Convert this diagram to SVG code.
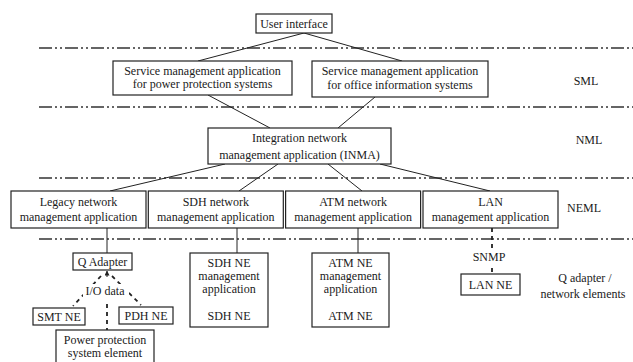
<svg xmlns="http://www.w3.org/2000/svg" width="633" height="362" viewBox="0 0 633 362">
<style>
  text { font-family: 'Liberation Serif', 'Times New Roman', 'DejaVu Serif', serif; font-size: 12px; fill: #1a1a1a; text-anchor: middle; }
  .box { fill: #ffffff; stroke: #222222; stroke-width: 1.2; }
  .conn { stroke: #222222; stroke-width: 1; fill: none; }
  .dash { stroke: #222222; stroke-width: 1.8; fill: none; stroke-dasharray: 4 4; }
  .layer { stroke: #333333; stroke-width: 1.5; fill: none; stroke-dasharray: 13 3 2 3 2 3; }
  .bg { fill: #ffffff; stroke: none; }
</style>
<defs>
  <marker id="arr" viewBox="0 0 10 10" refX="9" refY="5" markerWidth="5" markerHeight="5" orient="auto">
    <path d="M0,0 L10,5 L0,10 z" fill="#222222"/>
  </marker>
</defs>
<rect width="633" height="362" fill="#ffffff"/>

<g id="layers" font-family="Liberation Serif, serif">
  <line class="layer" x1="39" y1="48" x2="633" y2="48"/>
  <line class="layer" x1="39" y1="107" x2="633" y2="107"/>
  <line class="layer" x1="39" y1="178" x2="633" y2="178"/>
  <line class="layer" x1="39" y1="239" x2="633" y2="239"/>
  <text x="586" y="85">SML</text>
  <text x="589" y="144">NML</text>
  <text x="584" y="212">NEML</text>
  <text x="585" y="282">Q adapter /</text>
  <text x="583" y="298">network elements</text>
</g>

<g id="connectors">
  <line class="conn" x1="304" y1="33" x2="198" y2="61"/>
  <line class="conn" x1="304" y1="33" x2="402" y2="61"/>
  <line class="conn" x1="208" y1="95" x2="270" y2="128"/>
  <line class="conn" x1="375" y1="97" x2="338" y2="128"/>
  <line class="conn" x1="225" y1="164" x2="110" y2="191"/>
  <line class="conn" x1="278" y1="164" x2="239" y2="191"/>
  <line class="conn" x1="328" y1="164" x2="362" y2="191"/>
  <line class="conn" x1="380" y1="164" x2="490" y2="191"/>
  <line class="conn" x1="107" y1="228" x2="107" y2="253"/>
  <line class="conn" x1="237" y1="228" x2="237" y2="253"/>
  <line class="conn" x1="358" y1="228" x2="358" y2="253"/>
  <line class="dash" x1="492" y1="228" x2="492" y2="274"/>
  <line class="dash" x1="107" y1="304" x2="107" y2="330"/>
  <line class="dash" x1="101" y1="276" x2="73" y2="306"/>
  <line class="dash" x1="112" y1="276" x2="141" y2="305"/>
  <line class="conn" x1="107" y1="277" x2="107" y2="271" marker-end="url(#arr)"/>
  <rect class="bg" x="474" y="249" width="30" height="15"/>
  <text x="489" y="261">SNMP</text>
  <rect class="bg" x="83" y="284" width="46" height="14"/>
  <text x="105" y="295">I/O data</text>
</g>

<g id="user-interface">
  <rect class="box" x="256" y="14" width="76" height="19"/>
  <text x="294" y="28">User interface</text>
</g>

<g id="sml-power">
  <rect class="box" x="113" y="61" width="179" height="34"/>
  <text x="202.5" y="75">Service management application</text>
  <text x="202.5" y="88">for power protection systems</text>
</g>

<g id="sml-office">
  <rect class="box" x="312" y="61" width="176" height="36"/>
  <text x="400" y="75">Service management application</text>
  <text x="400" y="89">for office information systems</text>
</g>

<g id="inma">
  <rect class="box" x="208" y="128" width="183" height="36"/>
  <text x="299.5" y="142">Integration network</text>
  <text x="299.5" y="159">management application (INMA)</text>
</g>

<g id="legacy-nma">
  <rect class="box" x="11" y="191" width="135" height="37"/>
  <text x="78.5" y="206">Legacy network</text>
  <text x="78.5" y="221">management application</text>
</g>

<g id="sdh-nma">
  <rect class="box" x="148.3" y="191" width="135" height="37"/>
  <text x="215.8" y="206">SDH network</text>
  <text x="215.8" y="221">management application</text>
</g>

<g id="atm-nma">
  <rect class="box" x="285.6" y="191" width="135" height="37"/>
  <text x="353.1" y="206">ATM network</text>
  <text x="353.1" y="221">management application</text>
</g>

<g id="lan-ma">
  <rect class="box" x="423" y="191" width="135" height="37"/>
  <text x="490.5" y="206">LAN</text>
  <text x="490.5" y="221">management application</text>
</g>

<g id="q-adapter">
  <rect class="box" x="73" y="253" width="59" height="17"/>
  <text x="102.5" y="266">Q Adapter</text>
</g>

<g id="sdh-ne">
  <rect class="box" x="190" y="253" width="78" height="74"/>
  <text x="229" y="267">SDH NE</text>
  <text x="229" y="280">management</text>
  <text x="229" y="293">application</text>
  <text x="229" y="320">SDH NE</text>
</g>

<g id="atm-ne">
  <rect class="box" x="312" y="253" width="77" height="74"/>
  <text x="350.5" y="267">ATM NE</text>
  <text x="350.5" y="280">management</text>
  <text x="350.5" y="293">application</text>
  <text x="350.5" y="320">ATM NE</text>
</g>

<g id="lan-ne">
  <rect class="box" x="461" y="274" width="59" height="21"/>
  <text x="490.5" y="289">LAN NE</text>
</g>

<g id="smt-ne">
  <rect class="box" x="33" y="308" width="52" height="17"/>
  <text x="59" y="321">SMT NE</text>
</g>

<g id="pdh-ne">
  <rect class="box" x="119" y="307" width="54" height="17"/>
  <text x="146" y="320">PDH NE</text>
</g>

<g id="power-protection">
  <rect class="box" x="56" y="330" width="98" height="36"/>
  <text x="105" y="344">Power protection</text>
  <text x="105" y="357">system element</text>
</g>
</svg>
